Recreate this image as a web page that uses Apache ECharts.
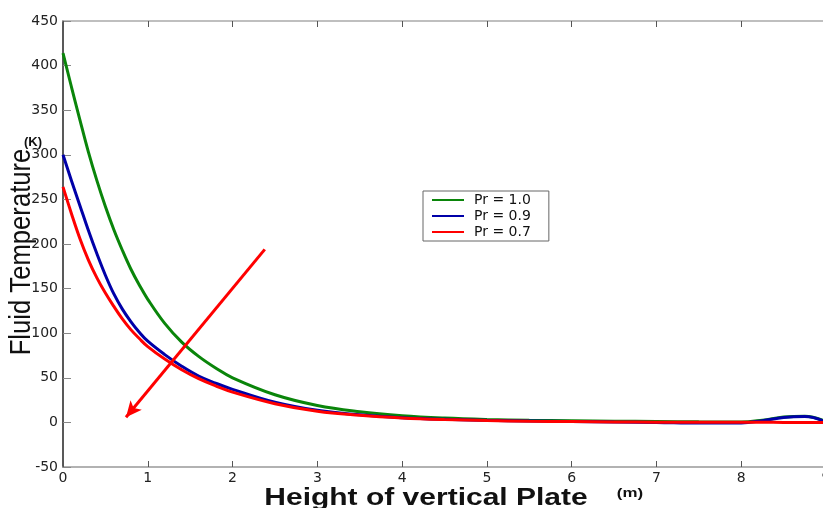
<!DOCTYPE html>
<html>
<head>
<meta charset="utf-8">
<script src="https://cdn.jsdelivr.net/npm/echarts@6/dist/echarts.min.js"></script>
<style>html,body{margin:0;padding:0;background:#fff;}#c{width:823px;height:508px;}</style>
</head>
<body>
<div id="c"></div>
<script>
var xValues = [0,0.1,0.2,0.3,0.4,0.5,0.6,0.7,0.8,0.9,1,1.2,1.4,1.6,1.8,2,2.5,3,3.5,4,4.5,5,5.5,6,6.5,7,7.5,8,8.25,8.5,8.75,9];
var pr10 = [414,376,339,303,271,242,216,193,172,154,138,111,90,74,61,50,31,19,12,7.5,4.8,3.2,2.3,1.8,1.4,1.0,0.6,0.4,2.5,6,7,1];
var pr09 = [300,271,243,215,189,165,144,127,113,101,91,76,63,52,44,37,22.5,13.5,8.5,5.3,3.4,2.3,1.6,1.0,0.5,0,-0.8,-0.6,2,5.5,6.5,0.5];
var pr07 = [264,234,206,182,162,145,130,116,104,94,85,71,59,49,41,34,21,12.5,8,5,3.2,2.1,1.4,0.9,0.5,0.3,0.2,0.1,0.1,0,0,0];
var seriesNames = ['Pr = 1.0','Pr = 0.9','Pr = 0.7'];
var arrowStart = [2.38, 194];
var arrowEnd = [0.743, 5.7];

function pairs(ys){ return xValues.map(function(x,i){ return [x, ys[i]]; }); }

var chart = echarts.init(document.getElementById('c'), null, {renderer:'canvas'});
var tickFont = {fontFamily:'DejaVu Sans', fontSize:14, color:'#222'};
var option = {
  animation:false,
  backgroundColor:'#fff',
  grid:{left:63, top:21, right:-3, bottom:41, containLabel:false, outerBoundsMode:'none'},
  legend:{
    data:seriesNames, orient:'vertical', left:423, top:191,
    backgroundColor:'#fff', borderColor:'#666', borderWidth:1, borderRadius:0,
    padding:[1,18,1,9], itemGap:0, itemWidth:32, itemHeight:2, icon:'rect',
    textStyle:{fontFamily:'DejaVu Sans', fontSize:14, lineHeight:16, color:'#111', padding:[0,0,0,5]}
  },
  xAxis:[{
    type:'value', min:0, max:9, interval:1, position:'bottom',
    axisLine:{onZero:false, lineStyle:{color:'#999', width:1.5}},
    axisTick:{inside:true, length:6, lineStyle:{color:'#555'}},
    axisLabel:Object.assign({margin:4}, tickFont),
    splitLine:{show:false}
  },{
    type:'value', min:0, max:9, interval:1, position:'top',
    axisLine:{onZero:false, lineStyle:{color:'#aaa', width:1.5}},
    axisTick:{inside:true, length:6, lineStyle:{color:'#555'}},
    axisLabel:{show:false}, splitLine:{show:false}
  }],
  yAxis:{
    type:'value', min:-50, max:450, interval:50,
    axisLine:{show:true, onZero:false, lineStyle:{color:'#222', width:1.5}},
    axisTick:{inside:true, length:8, lineStyle:{color:'#888'}},
    axisLabel:Object.assign({margin:5}, tickFont),
    splitLine:{show:false}
  },
  series:[
    {name:seriesNames[0], type:'line', data:pairs(pr10), smooth:0.4, showSymbol:false, color:'#0a850a', lineStyle:{width:3, color:'#0a850a'}, z:3},
    {name:seriesNames[1], type:'line', data:pairs(pr09), smooth:0.4, showSymbol:false, color:'#0000a8', lineStyle:{width:3, color:'#0000a8'}, z:4},
    {name:seriesNames[2], type:'line', data:pairs(pr07), smooth:0.4, showSymbol:false, color:'#ff0000', lineStyle:{width:3, color:'#ff0000'}, z:5,
      markLine:{silent:true, symbol:['none','arrow'], symbolSize:[11,16], label:{show:false},
        lineStyle:{color:'#ff0000', width:3, type:'solid'},
        data:[[{coord:arrowStart},{coord:arrowEnd}]]}}
  ],
  graphic:[
    {type:'text', x:22, y:252, rotation:Math.PI/2, scaleX:0.95, scaleY:1.1, style:{text:'Fluid Temperature', font:'27px "Liberation Sans", Arial, sans-serif', fill:'#111', textAlign:'center', textVerticalAlign:'middle'}},
    {type:'text', x:33, y:142, style:{text:'(K)', font:'bold 13px "Liberation Sans", Arial, sans-serif', fill:'#111', textAlign:'center', textVerticalAlign:'middle'}},
    {type:'text', x:426, y:498, scaleX:1.25, style:{text:'Height of vertical Plate', font:'bold 24px "Liberation Sans", Arial, sans-serif', fill:'#111', textAlign:'center', textVerticalAlign:'middle'}},
    {type:'text', x:630, y:493, scaleX:1.3, style:{text:'(m)', font:'bold 13px "Liberation Sans", Arial, sans-serif', fill:'#111', textAlign:'center', textVerticalAlign:'middle'}}
  ]
};
chart.setOption(option);
</script>
</body>
</html>
